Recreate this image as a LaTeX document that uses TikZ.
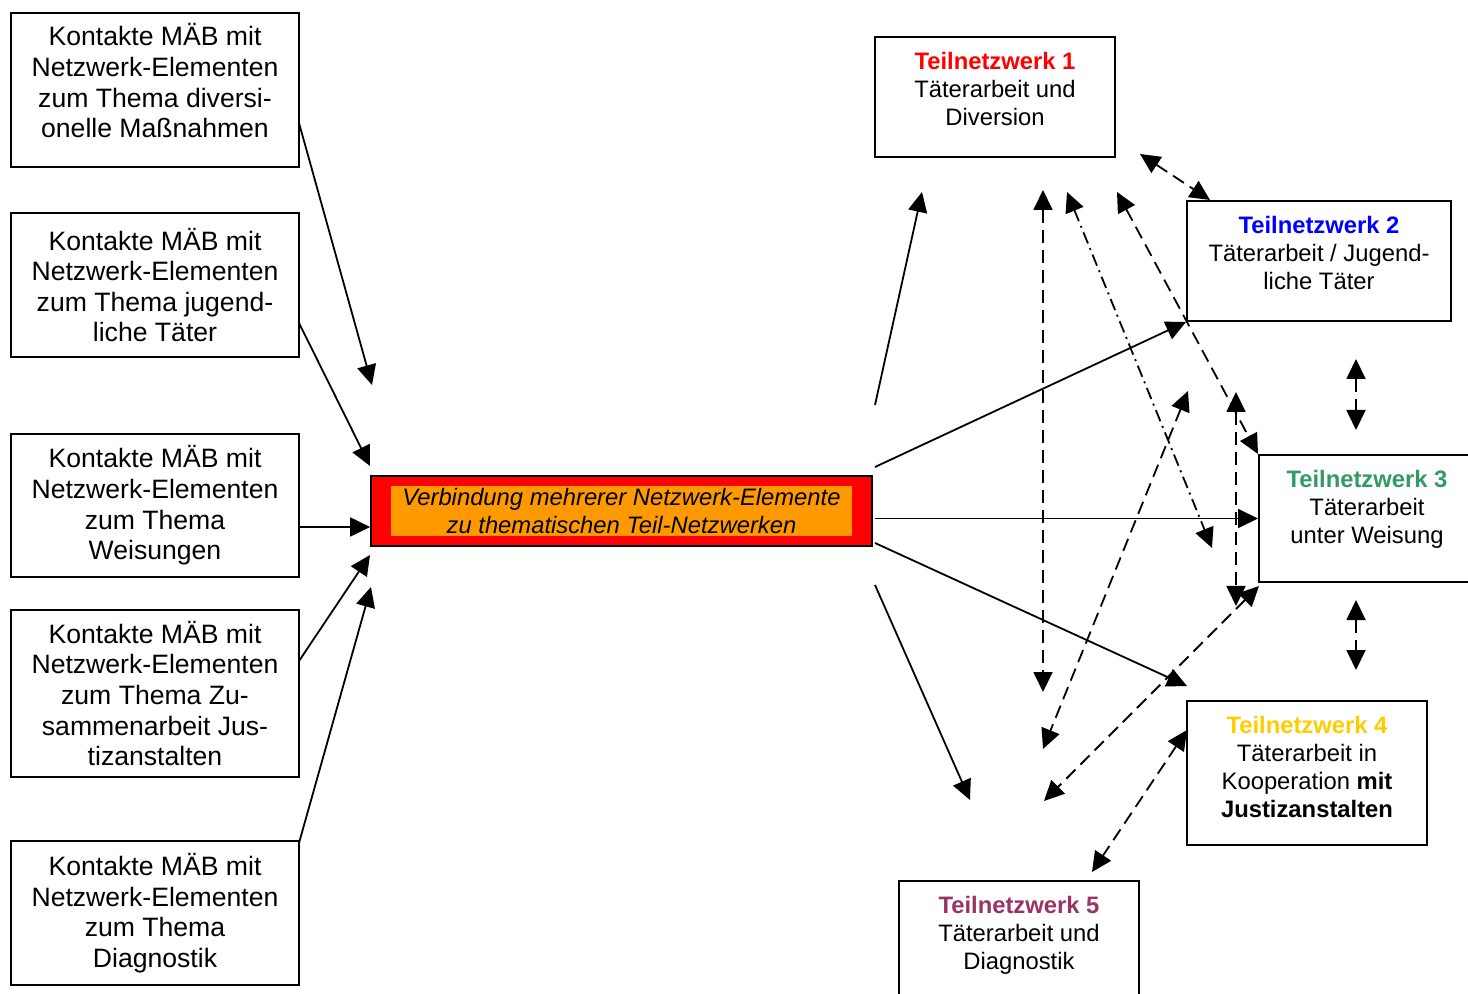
\documentclass[tikz,border=0pt]{standalone}
\usepackage{fontspec}
\setmainfont{Liberation Sans}
\usetikzlibrary{arrows.meta,positioning}
\definecolor{tnred}{RGB}{255,0,0}
\definecolor{tnblue}{RGB}{0,0,255}
\definecolor{tngreen}{RGB}{51,153,102}
\definecolor{tngold}{RGB}{255,204,0}
\definecolor{tnpurple}{RGB}{153,51,102}
\definecolor{netzorange}{RGB}{255,153,0}

\begin{document}
\begin{tikzpicture}[x=0.5pt, y=-0.5pt,
		>={Triangle[length=10pt,width=9.5pt]},
		every node/.style={font=\fontsize{11.9}{14}\selectfont},
		kontakt/.style={draw, rectangle, line width=1pt, minimum width=144pt, inner sep=0pt, align=center, font=\fontsize{13.3}{15.3}\selectfont},
		teilbox/.style={draw, rectangle, line width=1pt, minimum width=120pt, minimum height=60pt, inner sep=0pt},
		teiltext/.style={align=center, inner sep=0pt},
		pfeil/.style={->, line width=0.9pt},
		strich/.style={<->, line width=0.9pt, dash pattern=on 6.5pt off 3.5pt},
		strichpunkt/.style={<->, line width=0.9pt, dash pattern=on 6pt off 2.5pt on 1pt off 2.5pt}]
	\useasboundingbox (0,0) rectangle (1468,994);
	% Kontakte links
	\node[kontakt, minimum height=77pt] (k1) at (155,90) {Kontakte MÄB mit\\Netzwerk-Elementen\\zum Thema diversi-\\onelle Maßnahmen\\[-6pt]\mbox{}};
	\node[kontakt, minimum height=72pt] (k2) at (155,285) {Kontakte MÄB mit\\Netzwerk-Elementen\\zum Thema jugend-\\liche Täter};
	\node[kontakt, minimum height=71.5pt] (k3) at (155,505.5) {Kontakte MÄB mit\\Netzwerk-Elementen\\zum Thema\\Weisungen};
	\node[kontakt, minimum height=83.5pt] (k4) at (155,693.5) {Kontakte MÄB mit\\Netzwerk-Elementen\\zum Thema Zu-\\sammenarbeit Jus-\\tizanstalten};
	\node[kontakt, minimum height=72pt] (k5) at (155,913) {Kontakte MÄB mit\\Netzwerk-Elementen\\zum Thema\\Diagnostik};
	% Verbindung
	\node[draw, fill=tnred, line width=0.8pt, minimum width=250.5pt, minimum height=35pt] (netz) at (621.5,511) {};
	\node[fill=netzorange, minimum width=230.5pt, minimum height=25pt, inner sep=0pt, align=center, font=\itshape\fontsize{11.9}{14}\selectfont] (netztext) at (netz) {Verbindung mehrerer Netzwerk-Elemente\\zu thematischen Teil-Netzwerken};
	% Teilnetzwerke
	\node[teilbox] (t1) at (995,97) {};
	\node[teiltext, below=8pt of t1.north] (t1text) {{\color{tnred}\textbf{Teilnetzwerk 1}}\\Täterarbeit und\\Diversion};
	\node[teilbox, minimum width=132pt] (t2) at (1319,261) {};
	\node[teiltext, below=8pt of t2.north] (t2text) {{\color{tnblue}\textbf{Teilnetzwerk 2}}\\Täterarbeit / Jugend-\\liche Täter};
	\node[teilbox, minimum width=108pt, minimum height=63.5pt] (t3) at (1367,518.5) {};
	\node[teiltext, below=8pt of t3.north] (t3text) {{\color{tngreen}\textbf{Teilnetzwerk 3}}\\Täterarbeit\\unter Weisung};
	\node[teilbox, minimum height=72pt] (t4) at (1307,773) {};
	\node[teiltext, below=8pt of t4.north] (t4text) {{\color{tngold}\textbf{Teilnetzwerk 4}}\\Täterarbeit in\\Kooperation \textbf{mit}\\\textbf{Justizanstalten}};
	\node[teilbox] (t5) at (1019,941) {};
	\node[teiltext, below=8pt of t5.north] (t5text) {{\color{tnpurple}\textbf{Teilnetzwerk 5}}\\Täterarbeit und\\Diagnostik};
	% Punkte
	\coordinate (s1) at (299,123); \coordinate (e1) at (372,385);
	\coordinate (s2) at (299,323); \coordinate (e2) at (370,466);
	\coordinate (s3) at (299,527);
	\coordinate (s4) at (299,661); \coordinate (e4) at (370,555);
	\coordinate (s5) at (299,843); \coordinate (e5) at (371,587);
	\coordinate (r1) at (875,405); \coordinate (r1e) at (922,192);
	\coordinate (r2) at (875,467);
	\coordinate (r3) at (875,518.5);
	\coordinate (r4) at (875,543); \coordinate (r4e) at (1187,686);
	\coordinate (r5) at (875,585); \coordinate (r5e) at (970,800);
	\coordinate (d1a) at (1140,154); \coordinate (d1b) at (1210,200);
	\coordinate (d2a) at (1043,190); \coordinate (d2b) at (1043,692);
	\coordinate (d3a) at (1067,192); \coordinate (d3b) at (1212,548);
	\coordinate (d4a) at (1117,192);
	\coordinate (d5a) at (1236,392); \coordinate (d5b) at (1236,606);
	\coordinate (d6a) at (1188,391); \coordinate (d6b) at (1043,749);
	\coordinate (d7a) at (1259,586); \coordinate (d7b) at (1044,801);
	\coordinate (d8a) at (1356,359); \coordinate (d8b) at (1356,430);
	\coordinate (d9a) at (1356,600); \coordinate (d9b) at (1356,670);
	\coordinate (d10a) at (1187,730); \coordinate (d10b) at (1092,872);
	% Pfeile links
	\draw[pfeil] (s1) -- (e1);
	\draw[pfeil] (s2) -- (e2);
	\draw[pfeil] (s3) -- (s3 -| netz.west);
	\draw[pfeil] (s4) -- (e4);
	\draw[pfeil] (s5) -- (e5);
	% Pfeile rechts
	\draw[pfeil] (r1) -- (r1e);
	\draw[pfeil] (r2) -- (t2.south west);
	\draw[pfeil] (r3) -- (r3 -| t3.west);
	\draw[pfeil] (r4) -- (r4e);
	\draw[pfeil] (r5) -- (r5e);
	% gestrichelt
	\draw[strich] (d1a) -- (d1b);
	\draw[strich] (d2a) -- (d2b);
	\draw[strichpunkt] (d3a) -- (d3b);
	\draw[strich] (d4a) -- (t3.north west);
	\draw[strich] (d5a) -- (d5b);
	\draw[strich] (d6a) -- (d6b);
	\draw[strich] (d7a) -- (d7b);
	\draw[strich] (d8a) -- (d8b);
	\draw[strich] (d9a) -- (d9b);
	\draw[strich] (d10a) -- (d10b);
\end{tikzpicture}
\end{document}
